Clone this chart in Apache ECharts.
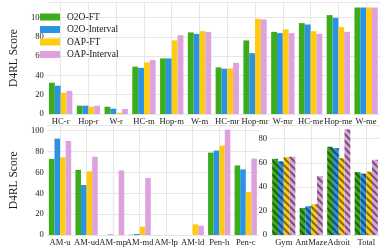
<!DOCTYPE html>
<html><head><meta charset="utf-8">
<script src="https://cdn.jsdelivr.net/npm/echarts@6/dist/echarts.min.js"></script>
<style>html,body{margin:0;padding:0;background:#fff}#c{width:382px;height:247px}</style>
</head><body><div id="c"></div>
<script>
const seriesNames = ['O2O-FT', 'O2O-Interval', 'OAP-FT', 'OAP-Interval'];
const colors = ['#3cad1a', '#2b92e4', '#fecb0e', '#dda2dd'];

const topCats = ['HC-r','Hop-r','W-r','HC-m','Hop-m','W-m','HC-mr','Hop-mr','W-mr','HC-me','Hop-me','W-me'];
const topO2OFT      = [32.4, 8.6, 7.5, 49.0, 57.6, 84.5, 48.3, 76.2, 85.1, 94.1, 102.4, 110.3];
const topO2OInt     = [29.3, 8.6, 5.5, 47.8, 57.6, 83.0, 46.9, 63.0, 83.8, 92.7, 99.6, 110.3];
const topOAPFT      = [22.0, 7.5, 1.4, 53.4, 76.2, 85.8, 47.2, 98.6, 87.6, 85.8, 90.0, 110.3];
const topOAPInt     = [24.0, 8.6, 5.2, 55.8, 81.7, 85.0, 53.0, 97.9, 83.8, 83.0, 85.1, 110.3];

const blCats = ['AM-u','AM-ud','AM-mp','AM-md','AM-lp','AM-ld','Pen-h','Pen-c'];
const blO2OFT   = [73.0, 62.5, 0.0, 0.3, 0.0, 0.0, 79.0, 66.7];
const blO2OInt  = [92.4, 47.9, 0.5, 1.0, 0.0, 0.0, 81.0, 62.9];
const blOAPFT   = [74.6, 61.0, 0.0, 8.0, 0.0, 10.2, 85.7, 41.3];
const blOAPInt  = [90.2, 75.0, 62.0, 54.6, 0.0, 8.9, 101.0, 73.3];

const brCats = ['Gym','AntMaze','Adroit','Total'];
const brO2OFT  = [63.3, 22.5, 73.3, 52.3];
const brO2OInt = [61.2, 23.9, 72.2, 51.0];
const brOAPFT  = [64.8, 25.5, 63.8, 52.6];
const brOAPInt = [65.1, 48.9, 87.8, 62.5];

const FONT = '"Liberation Serif", "DejaVu Serif", serif';
const gridColor = '#e6e6e6';

function xAxis(idx, cats) {
  return {
    type: 'category', gridIndex: idx, data: cats,
    axisLine: {show: false}, axisTick: {show: false},
    axisLabel: {fontFamily: FONT, fontSize: 8.6, color: '#1a1a1a', margin: 3, interval: 0},
    splitLine: {show: true, alignWithLabel: true, lineStyle: {color: gridColor, width: 1}}
  };
}
function yAxis(idx, max, name) {
  return {
    type: 'value', gridIndex: idx, min: 0, max: max, interval: 20,
    axisLine: {show: false}, axisTick: {show: false},
    axisLabel: {fontFamily: FONT, fontSize: 8.6, color: '#1a1a1a', margin: 3,
      showMaxLabel: false},
    splitLine: {show: true, lineStyle: {color: gridColor, width: 1}},
    name: name, nameLocation: 'middle', nameGap: 16, nameRotate: 90,
    nameTextStyle: {fontFamily: FONT, fontSize: 11.5, color: '#1a1a1a'}
  };
}

const decal = {symbol: 'rect', symbolSize: 1, color: 'rgba(20,20,20,0.55)',
  dashArrayX: [1, 0], dashArrayY: [1.2, 2.6], rotation: Math.PI / 4};

const sets = [
  [topO2OFT, topO2OInt, topOAPFT, topOAPInt],
  [blO2OFT, blO2OInt, blOAPFT, blOAPInt],
  [brO2OFT, brO2OInt, brOAPFT, brOAPInt]
];
const series = [];
sets.forEach((arrs, g) => {
  arrs.forEach((d, i) => {
    const s = {
      type: 'bar', name: seriesNames[i], xAxisIndex: g, yAxisIndex: g, data: d,
      barGap: '0%', barCategoryGap: '16%',
      itemStyle: {color: colors[i]}, silent: true, animation: false
    };
    if (g === 2) s.itemStyle.decal = decal;
    series.push(s);
  });
});

const chart = echarts.init(document.getElementById('c'), null, {renderer: 'canvas'});
chart.setOption({
  animation: false,
  color: colors,
  grid: [
    {left: 27, right: 2, top: 2, height: 112},
    {left: 27, width: 232, top: 125.5, height: 110.5},
    {left: 270, right: 2, top: 125.5, height: 110.5}
  ],
  xAxis: [xAxis(0, topCats), xAxis(1, blCats), xAxis(2, brCats)],
  yAxis: [yAxis(0, 116, 'D4RL Score'), yAxis(1, 105, 'D4RL Score'), yAxis(2, 91, '')],
  legend: {
    data: seriesNames, orient: 'vertical', left: 35, top: 7,
    itemWidth: 20, itemHeight: 7, itemGap: 2.5,
    icon: 'rect',
    textStyle: {fontFamily: FONT, fontSize: 9.5, color: '#1a1a1a', padding: [0,0,0,2]}
  },
  series: series
});
</script></body></html>
